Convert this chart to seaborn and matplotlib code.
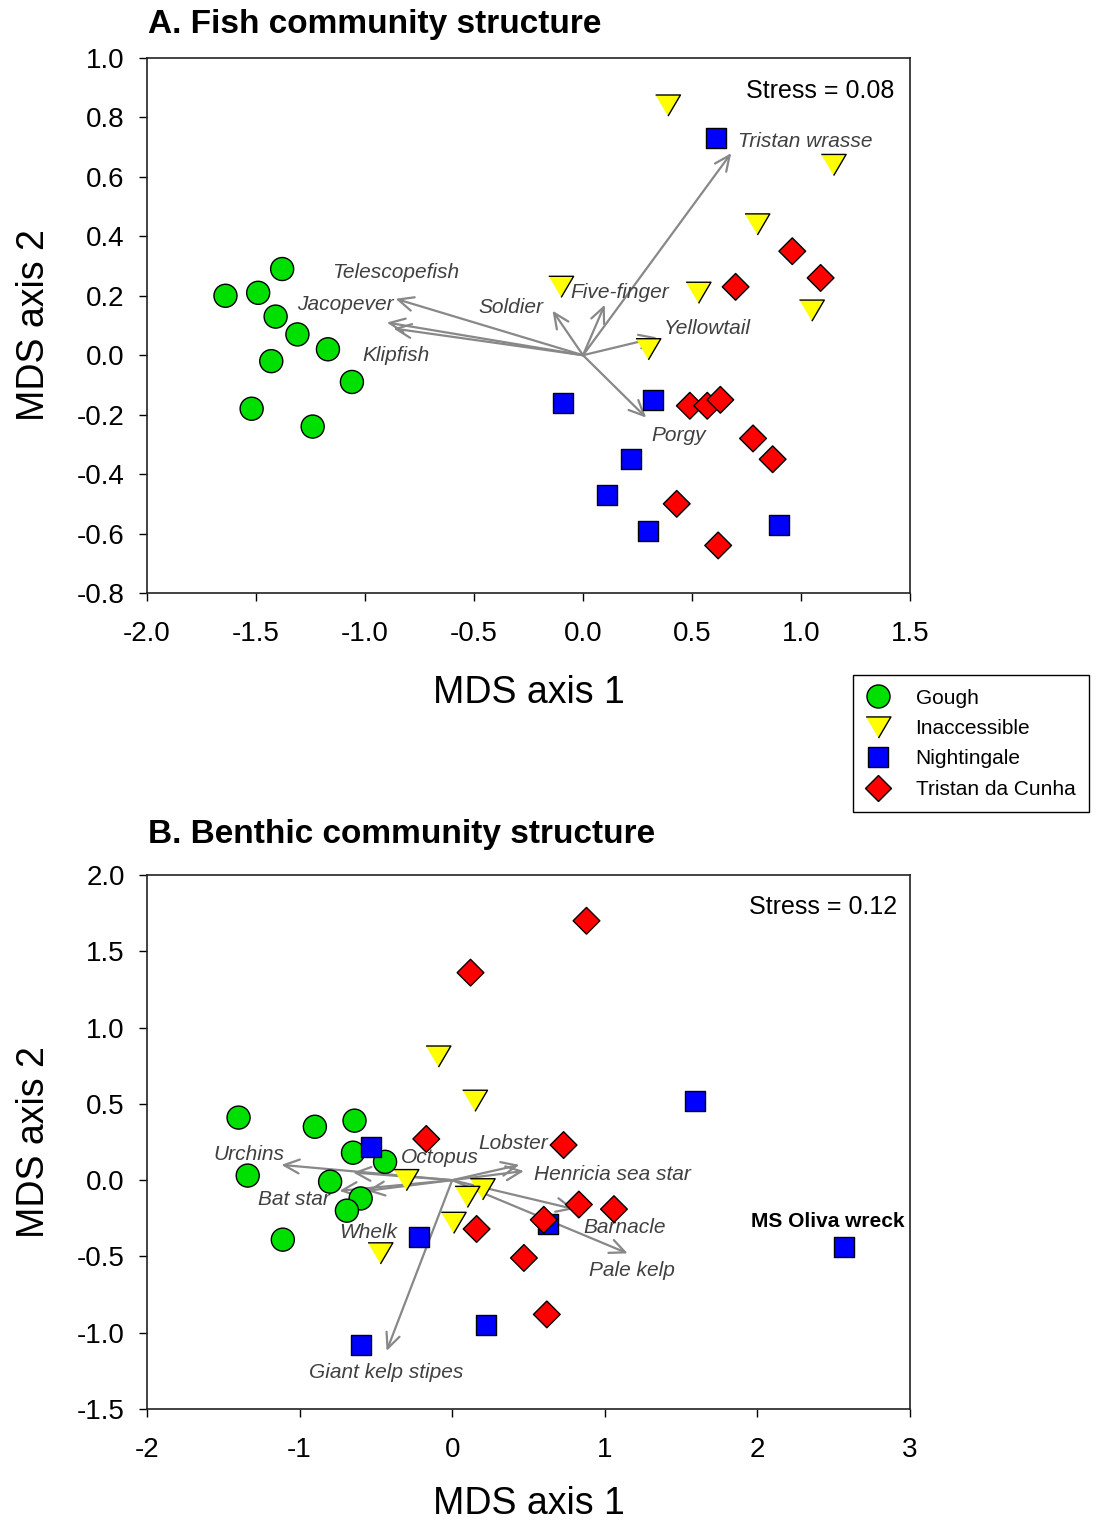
import pandas as pd
import seaborn as sns
import matplotlib.pyplot as plt

sites = ['Gough', 'Inaccessible', 'Nightingale', 'Tristan da Cunha']

# Panel A - fish community, site scores
fish_site = ['Gough'] * 10 + ['Inaccessible'] * 7 + ['Nightingale'] * 7 + ['Tristan da Cunha'] * 10
fish_x = [-1.38, -1.64, -1.49, -1.41, -1.31, -1.17, -1.43, -1.06, -1.52, -1.24,
          0.39, 1.15, 0.80, 0.53, 1.05, -0.10, 0.30,
          0.61, -0.09, 0.32, 0.22, 0.11, 0.30, 0.90,
          0.96, 1.09, 0.70, 0.49, 0.57, 0.63, 0.78, 0.87, 0.43, 0.62]
fish_y = [0.29, 0.20, 0.21, 0.13, 0.07, 0.02, -0.02, -0.09, -0.18, -0.24,
          0.84, 0.64, 0.44, 0.21, 0.15, 0.23, 0.02,
          0.73, -0.16, -0.15, -0.35, -0.47, -0.59, -0.57,
          0.35, 0.26, 0.23, -0.17, -0.17, -0.15, -0.28, -0.35, -0.50, -0.64]

# Panel A - species vectors
fish_species = ['Tristan wrasse', 'Telescopefish', 'Jacopever', 'Klipfish', 'Soldier',
                'Five-finger', 'Yellowtail', 'Porgy']
fish_vec_x = [0.68, -0.86, -0.90, -0.87, -0.14, 0.10, 0.34, 0.29]
fish_vec_y = [0.68, 0.19, 0.11, 0.09, 0.15, 0.17, 0.06, -0.21]
fish_lab_x = [1.02, -0.86, -1.09, -0.86, -0.33, 0.17, 0.57, 0.44]
fish_lab_y = [0.72, 0.28, 0.17, 0.00, 0.16, 0.21, 0.09, -0.27]

# Panel B - benthic community, site scores
ben_site = ['Gough'] * 10 + ['Inaccessible'] * 7 + ['Nightingale'] * 7 + ['Tristan da Cunha'] * 10
ben_x = [-1.40, -0.90, -0.64, -0.65, -0.44, -1.34, -0.80, -0.60, -0.69, -1.11,
         0.15, -0.09, -0.30, 0.20, 0.10, 0.01, -0.47,
         -0.53, -0.22, 0.22, -0.60, 1.59, 0.63, 2.57,
         0.88, 0.12, -0.17, 0.73, 0.83, 1.06, 0.60, 0.16, 0.47, 0.62]
ben_y = [0.41, 0.35, 0.39, 0.18, 0.12, 0.03, -0.01, -0.12, -0.20, -0.39,
         0.52, 0.81, 0.00, -0.06, -0.11, -0.28, -0.48,
         0.22, -0.37, -0.95, -1.08, 0.52, -0.29, -0.44,
         1.70, 1.36, 0.27, 0.23, -0.16, -0.19, -0.26, -0.32, -0.51, -0.88]

# Panel B - species vectors
ben_species = ['Urchins', 'Octopus', 'Bat star', 'Whelk', 'Giant kelp stipes',
               'Lobster', 'Henricia sea star', 'Barnacle', 'Pale kelp']
ben_vec_x = [-1.12, -0.65, -0.74, -0.56, -0.43, 0.44, 0.47, 0.80, 1.15]
ben_vec_y = [0.10, 0.05, -0.07, -0.07, -1.12, 0.10, 0.06, -0.19, -0.48]
ben_lab_x = [-1.33, -0.08, -1.04, -0.55, -0.43, 0.40, 1.05, 1.13, 1.18]
ben_lab_y = [0.17, 0.15, -0.13, -0.34, -1.26, 0.24, 0.04, -0.31, -0.59]

palette = {'Gough': '#00E000', 'Inaccessible': '#FFFF00',
           'Nightingale': '#0000FF', 'Tristan da Cunha': '#FF0000'}
tri = [(-1, 0.85), (1, 0.85), (0, -0.85)]
markers = {'Gough': 'o', 'Inaccessible': tri, 'Nightingale': 's', 'Tristan da Cunha': 'D'}
sizes = {'Gough': 275, 'Inaccessible': 320, 'Nightingale': 207, 'Tristan da Cunha': 185}

sns.set_style('ticks')
plt.rcParams['font.family'] = ['Liberation Sans', 'DejaVu Sans']
plt.rcParams['axes.unicode_minus'] = False
plt.rcParams['text.color'] = 'black'
plt.rcParams['axes.labelcolor'] = 'black'
plt.rcParams['xtick.color'] = 'black'
plt.rcParams['ytick.color'] = 'black'

fig = plt.figure(figsize=(10.96, 15.21), dpi=100)
ax1 = fig.add_axes([147 / 1096, 1 - 593 / 1521, 763 / 1096, 535 / 1521])
ax2 = fig.add_axes([147 / 1096, 1 - 1409 / 1521, 763 / 1096, 534 / 1521])

fish = pd.DataFrame({'x': fish_x, 'y': fish_y, 'site': fish_site})
ben = pd.DataFrame({'x': ben_x, 'y': ben_y, 'site': ben_site})


def draw_vectors(ax, vx, vy, names, lx, ly):
    for tx, ty in zip(vx, vy):
        ax.annotate('', xy=(tx, ty), xytext=(0, 0),
                    arrowprops=dict(arrowstyle='->,head_length=1.1,head_width=0.5',
                                    color='#888888', lw=1.6, shrinkA=0, shrinkB=0),
                    zorder=3)
    for name, x, y in zip(names, lx, ly):
        ax.text(x, y, name, style='italic', fontsize=15, color='#404040',
                ha='center', va='center', zorder=4)


def draw_points(ax, df, legend):
    sns.scatterplot(data=df, x='x', y='y', hue='site', style='site', size='site',
                    hue_order=sites, style_order=sites, size_order=sites,
                    palette=palette, markers=markers, sizes=sizes,
                    edgecolor='black', linewidth=1, legend=legend, ax=ax, zorder=5)


draw_vectors(ax1, fish_vec_x, fish_vec_y, fish_species, fish_lab_x, fish_lab_y)
draw_points(ax1, fish, 'full')
draw_vectors(ax2, ben_vec_x, ben_vec_y, ben_species, ben_lab_x, ben_lab_y)
draw_points(ax2, ben, False)

ax1.set_xlim(-2.0, 1.5)
ax1.set_ylim(-0.8, 1.0)
ax1.set_xticks([-2.0, -1.5, -1.0, -0.5, 0.0, 0.5, 1.0, 1.5])
ax1.set_yticks([-0.8, -0.6, -0.4, -0.2, 0.0, 0.2, 0.4, 0.6, 0.8, 1.0])
ax1.set_xticklabels(['%.1f' % v for v in ax1.get_xticks()])
ax1.set_yticklabels(['%.1f' % v for v in ax1.get_yticks()])

ax2.set_xlim(-2, 3)
ax2.set_ylim(-1.5, 2.0)
ax2.set_xticks([-2, -1, 0, 1, 2, 3])
ax2.set_yticks([-1.5, -1.0, -0.5, 0.0, 0.5, 1.0, 1.5, 2.0])
ax2.set_yticklabels(['%.1f' % v for v in ax2.get_yticks()])

for ax in (ax1, ax2):
    ax.set_ylabel('MDS axis 2', fontsize=27, labelpad=18)
    ax.tick_params(direction='out', length=6, width=1, labelsize=20, pad=10)
    ax.tick_params(axis='x', pad=14)
    for sp in ax.spines.values():
        sp.set_visible(True)
        sp.set_linewidth(1.2)
        sp.set_color('#222222')
ax1.set_xlabel('MDS axis 1', fontsize=27, labelpad=20)
ax2.set_xlabel('MDS axis 1', fontsize=27, labelpad=17)

ax1.text(1.43, 0.89, 'Stress = 0.08', fontsize=18, ha='right', va='center')
ax2.text(2.915, 1.79, 'Stress = 0.12', fontsize=18, ha='right', va='center')
ax2.text(2.46, -0.27, 'MS Oliva wreck', fontsize=15, fontweight='bold',
         ha='center', va='center')

fig.text(148 / 1096, 1 - 24 / 1521, 'A. Fish community structure',
         fontsize=24, fontweight='bold', ha='left', va='center')
fig.text(148 / 1096, 1 - 835 / 1521, 'B. Benthic community structure',
         fontsize=24, fontweight='bold', ha='left', va='center')

leg = ax1.legend(loc='upper left', bbox_to_anchor=(0.9253, -0.1533), fontsize=15,
                 frameon=True, fancybox=False, edgecolor='black', framealpha=1,
                 labelspacing=0.55, handlelength=1.1, handletextpad=1.25,
                 borderpad=0.65, borderaxespad=0)
leg.get_frame().set_linewidth(1.0)

fig.savefig('out.png', dpi=100)
